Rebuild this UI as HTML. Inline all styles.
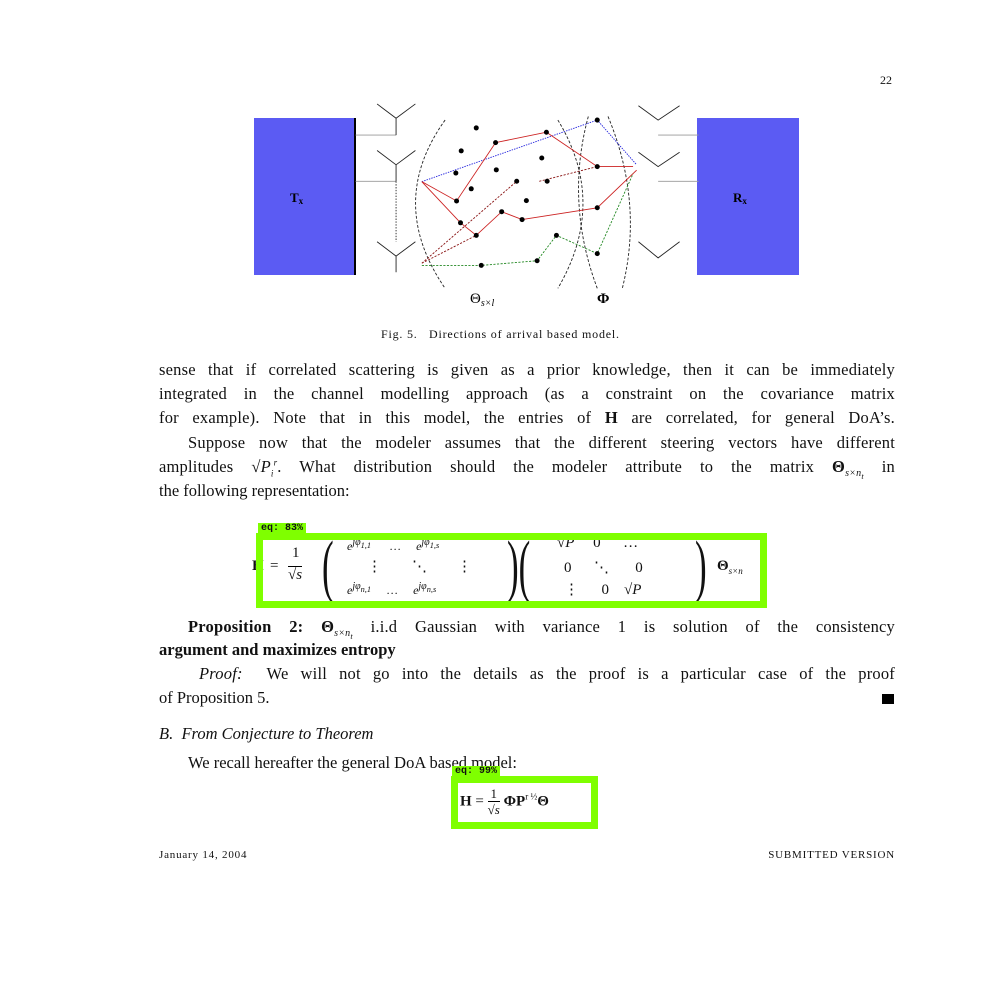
<!DOCTYPE html>
<html><head><meta charset="utf-8"><style>
body{margin:0;width:1003px;height:996px;background:#fff;position:relative;overflow:hidden;font-family:"Liberation Serif",serif;color:#111}
.a{position:absolute;white-space:nowrap}
.p{position:absolute;left:159px;width:736px;font-size:16.5px;text-align:justify;text-align-last:justify;white-space:nowrap;letter-spacing:0.2px}
.box{position:absolute;border:7px solid #7fff00}
.lab{position:absolute;background:#7fff00;font-family:"Liberation Mono",monospace;font-weight:bold;font-size:10px;padding:0 3px;line-height:12px}
</style></head><body>
<div class="a" style="left:880px;top:73px;font-size:12px">22</div>
<svg class="a" style="left:0;top:0" width="1003" height="330">
<rect x="254" y="118" width="102" height="157" fill="#5b5bf3"/>
<line x1="355" y1="118" x2="355" y2="275" stroke="#000" stroke-width="2"/>
<rect x="697" y="118" width="102" height="157" fill="#5b5bf3"/>
<text x="290" y="202" font-size="13" font-weight="bold" font-family="Liberation Serif">T<tspan font-size="9" dy="2">x</tspan></text>
<text x="733" y="202" font-size="13" font-weight="bold" font-family="Liberation Serif">R<tspan font-size="9" dy="2">x</tspan></text>
<g transform="translate(250,95) scale(0.358)" fill="none" stroke-width="2.5">
<g stroke="#999"><line x1="295" y1="112" x2="408" y2="112"/><line x1="295" y1="241" x2="408" y2="241"/><line x1="1140" y1="112" x2="1253" y2="112"/><line x1="1140" y1="241" x2="1253" y2="241"/></g>
<g stroke="#222"><path d="M408 112V65L355 25M408 65L462 25M408 241V195L355 155M408 195L462 155M408 495V450L355 410M408 450L462 410"/>
<line x1="408" y1="241" x2="408" y2="410" stroke-dasharray="4 4"/>
<path d="M1085 30L1140 70L1200 30M1085 160L1140 200L1200 160M1085 410L1140 455L1200 410"/>
<g stroke-dasharray="8 5"><path d="M545 70Q380 300 545 540"/><path d="M860 70Q1000 300 860 540"/><path d="M945 60Q880 300 970 540"/><path d="M1000 60Q1100 300 1040 540"/></g></g>
<path d="M480 242L970 70L1080 195" stroke="#22d" stroke-dasharray="4 3"/>
<g stroke="#c22"><path d="M480 242L588 357L632 392L703 326L760 348L970 315L1080 210"/><path d="M480 242L577 296L686 133L828 104L970 200L1070 200"/></g>
<g stroke="#811" stroke-dasharray="6 4"><path d="M480 470L745 241M808 241L970 200M480 470L632 392"/></g>
<path d="M480 476L646 476L802 463L856 392L970 443L1070 220" stroke="#282" stroke-dasharray="6 4"/>
<g fill="#000" stroke="none">
<circle cx="632" cy="92" r="7"/><circle cx="828" cy="104" r="7"/><circle cx="686" cy="133" r="7"/><circle cx="590" cy="156" r="7"/><circle cx="815" cy="176" r="7"/><circle cx="575" cy="218" r="7"/><circle cx="688" cy="209" r="7"/><circle cx="745" cy="241" r="7"/><circle cx="830" cy="241" r="7"/><circle cx="618" cy="262" r="7"/><circle cx="577" cy="296" r="7"/><circle cx="772" cy="295" r="7"/><circle cx="703" cy="326" r="7"/><circle cx="760" cy="348" r="7"/><circle cx="588" cy="357" r="7"/><circle cx="632" cy="392" r="7"/><circle cx="856" cy="392" r="7"/><circle cx="970" cy="70" r="7"/><circle cx="970" cy="200" r="7"/><circle cx="970" cy="315" r="7"/><circle cx="970" cy="443" r="7"/><circle cx="646" cy="476" r="7"/><circle cx="802" cy="463" r="7"/></g>
</g>
<text x="470" y="303" font-size="15" font-family="Liberation Serif">Θ<tspan font-size="10" font-style="italic" dy="3">s×l</tspan></text>
<text x="597" y="303" font-size="15" font-weight="bold" font-family="Liberation Serif">Φ</text>
</svg>
<div class="a" style="left:381px;top:327px;font-size:12px;letter-spacing:0.8px">Fig. 5.&nbsp;&nbsp; Directions of arrival based model.</div>
<div class="p" style="top:360px">sense that if correlated scattering is given as a prior knowledge, then it can be immediately</div>
<div class="p" style="top:384px">integrated in the channel modelling approach (as a constraint on the covariance matrix</div>
<div class="p" style="top:408px">for example). Note that in this model, the entries of <b>H</b> are correlated, for general DoA’s.</div>
<div class="p" style="top:433px;left:188px;width:707px">Suppose now that the modeler assumes that the different steering vectors have different</div>
<div class="p" style="top:457px">amplitudes √<i>P<sub style="font-size:9px">i</sub><sup style="font-size:9px">r</sup></i>. What distribution should the modeler attribute to the matrix <b>Θ</b><sub style="font-size:10px"><i>s×n<sub>t</sub></i></sub> in</div>
<div class="a" style="left:159px;top:481px;font-size:16.5px">the following representation:</div>
<div class="a" style="left:252px;top:535px;width:520px;height:70px;font-size:15px">
<span class="a" style="left:0;top:23px;font-weight:bold">H</span><span class="a" style="left:18px;top:23px">= </span>
<span class="a" style="left:40px;top:10px">1</span><span class="a" style="left:36px;top:31px;border-top:1px solid #000">√<i>s</i></span>
<span class="a" style="left:70px;top:-8px;font-size:70px;transform:scaleX(0.5);transform-origin:left">(</span>
<span class="a" style="left:95px;top:2px;font-size:12px"><i>e<sup>jφ<sub>1,1</sub></sup></i>&nbsp;&nbsp;&nbsp;&nbsp;&nbsp;&nbsp;…&nbsp;&nbsp;&nbsp;&nbsp;&nbsp;<i>e<sup>jφ<sub>1,s</sub></sup></i></span>
<span class="a" style="left:115px;top:22px">⋮&nbsp;&nbsp;&nbsp;&nbsp;&nbsp;&nbsp;&nbsp;&nbsp;⋱&nbsp;&nbsp;&nbsp;&nbsp;&nbsp;&nbsp;&nbsp;&nbsp;⋮</span>
<span class="a" style="left:95px;top:46px;font-size:12px"><i>e<sup>jφ<sub>n,1</sub></sup></i>&nbsp;&nbsp;&nbsp;&nbsp;&nbsp;…&nbsp;&nbsp;&nbsp;&nbsp;&nbsp;<i>e<sup>jφ<sub>n,s</sub></sup></i></span>
<span class="a" style="left:255px;top:-8px;font-size:70px;transform:scaleX(0.5);transform-origin:left">)(</span>
<span class="a" style="left:305px;top:0px">√<i>P</i>&nbsp;&nbsp;&nbsp;&nbsp;&nbsp;0&nbsp;&nbsp;&nbsp;&nbsp;&nbsp;&nbsp;…</span>
<span class="a" style="left:312px;top:23px">0&nbsp;&nbsp;&nbsp;&nbsp;&nbsp;&nbsp;⋱&nbsp;&nbsp;&nbsp;&nbsp;&nbsp;&nbsp;&nbsp;0</span>
<span class="a" style="left:312px;top:45px">⋮&nbsp;&nbsp;&nbsp;&nbsp;&nbsp;&nbsp;0&nbsp;&nbsp;&nbsp;&nbsp;√<i>P</i></span>
<span class="a" style="left:443px;top:-8px;font-size:70px;transform:scaleX(0.5);transform-origin:left">)</span>
<span class="a" style="left:465px;top:23px"><b>Θ</b><sub style="font-size:9px"><i>s×n</i></sub></span>
</div>
<div class="box" style="left:256px;top:533px;width:497px;height:61px"></div>
<div class="lab" style="left:258px;top:523px">eq: 83%</div>
<div class="p" style="top:617px;left:188px;width:707px"><b>Proposition 2:</b> <b>Θ</b><sub style="font-size:10px"><i>s×n<sub>t</sub></i></sub> i.i.d Gaussian with variance 1 is solution of the consistency</div>
<div class="a" style="left:159px;top:640px;font-size:16.5px"><b>argument and maximizes entropy</b></div>
<div class="p" style="top:664px;left:199px;width:696px"><i>Proof:</i>&nbsp; We will not go into the details as the proof is a particular case of the proof</div>
<div class="a" style="left:159px;top:688px;font-size:16.5px">of Proposition 5.</div>
<div class="a" style="left:882px;top:694px;width:12px;height:10px;background:#000"></div>
<div class="a" style="left:159px;top:724px;font-size:16.5px;font-style:italic">B.&nbsp; From Conjecture to Theorem</div>
<div class="a" style="left:188px;top:753px;font-size:16.5px">We recall hereafter the general DoA based model:</div>
<div class="a" style="left:460px;top:786px;font-size:15px"><b>H</b> = <span style="display:inline-block;text-align:center;vertical-align:middle;font-size:13px">1<br><span style="border-top:1px solid #000">√<i>s</i></span></span> <b>ΦP</b><sup style="font-size:9px">r ½</sup><b>Θ</b></div>
<div class="box" style="left:451px;top:776px;width:133px;height:39px"></div>
<div class="lab" style="left:452px;top:766px">eq: 99%</div>
<div class="a" style="left:159px;top:849px;font-size:11px;letter-spacing:0.8px">January 14, 2004</div>
<div class="a" style="right:108px;top:849px;font-size:11px;letter-spacing:0.8px">SUBMITTED VERSION</div>
</body></html>
